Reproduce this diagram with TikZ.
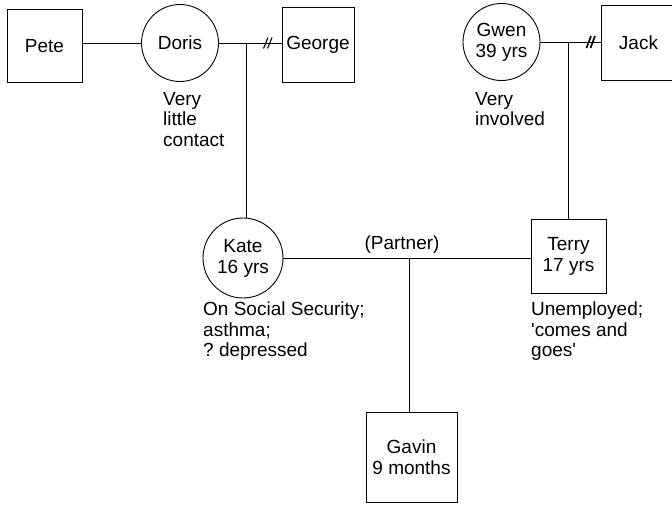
\documentclass[tikz,border=0pt]{standalone}
\usepackage{fontspec}
\setmainfont{Liberation Sans}
\frenchspacing
\begin{document}
\begin{tikzpicture}[x=1pt,y=-1pt,
  every node/.style={font=\fontsize{19}{21}\selectfont},
  line/.style={line width=0.9pt, black},
  male/.style={draw, line width=0.9pt, rectangle, inner sep=0pt, align=center},
  female/.style={draw, line width=0.9pt, circle, inner sep=0pt, minimum size=77pt, align=center},
  note/.style={anchor=north west, inner sep=0pt, align=left, font=\fontsize{19}{20.5}\selectfont},
  cut/.style={line width=1.1pt, black},
  heavycut/.style={line width=1.7pt, black}
]
\useasboundingbox (0,0) rectangle (672,504);
\clip (0,0) rectangle (672,504);

% people
\node[male, minimum width=75pt, minimum height=73pt] (pete) at (44.5,46) {Pete};
\node[female] (doris) at (180,43) {Doris};
\node[male, minimum width=72pt, minimum height=75pt] (george) at (318,44.5) {George};
\node[female] (gwen) at (501.5,42) {Gwen\\39 yrs};
\node[male, minimum width=75pt, minimum height=75pt] (jack) at (638.5,42.5) {Jack};
\node[female, minimum size=80pt] (kate) at (243,258) {Kate\\16 yrs};
\node[male, minimum width=75pt, minimum height=74pt] (terry) at (568.5,256) {Terry\\17 yrs};
\node[male, minimum width=91pt, minimum height=90pt] (gavin) at (411.5,457) {Gavin\\9 months};

% Pete -- Doris
\draw[line] (pete.east |- doris.west) -- (doris.west);

% Doris -- George (divorced), child Kate
\draw[line] (doris.east) -- (doris.east -| george.west);
\coordinate (dg) at (246,43);
\draw[line] (dg) -- (dg |- kate.north);
\coordinate (dgcut) at (268,43);
\draw[cut] (dgcut) ++(-4.5,5.5) -- ++(4.5,-11);
\draw[cut] (dgcut) ++(-0.5,5.5) -- ++(4.5,-11);

% Gwen -- Jack (divorced), child Terry
\draw[line] (gwen.east) -- (gwen.east -| jack.west);
\coordinate (gj) at (gwen.east -| terry.north);
\draw[line] (gj) -- (terry.north);
\coordinate (gjcut) at (591,42);
\draw[heavycut] (gjcut) ++(-4.5,6) -- ++(4.5,-12);
\draw[heavycut] (gjcut) ++(-0.5,6) -- ++(4.5,-12);

% Kate -- Terry, child Gavin
\draw[line] (kate.east) -- (kate.east -| terry.west);
\coordinate (kt) at (409,258);
\draw[line] (kt) -- (kt |- gavin.north);
\node (partner) at (402,245) {(Partner)};

% notes
\node[note] (dorisnote) at (163,92) {Very\\little\\contact};
\node[note] (gwennote) at (475,92) {Very\\involved};
\node[note] (katenote) at (203,302) {On Social Security;\\asthma;\\?\ depressed};
\node[note] (terrynote) at (531,302) {Unemployed;\\\textquotesingle comes and\\goes\textquotesingle};
\end{tikzpicture}
\end{document}
